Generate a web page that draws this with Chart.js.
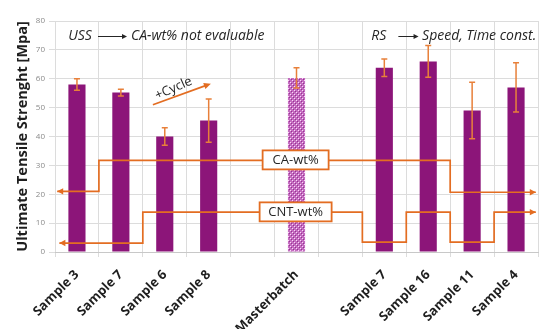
<!DOCTYPE html>
<html><head><meta charset="utf-8">
<script src="https://cdn.jsdelivr.net/npm/chart.js@4/dist/chart.umd.min.js"></script>
<style>html,body{margin:0;padding:0;background:#fff}canvas{display:block}</style>
</head><body>
<canvas id="c" width="539" height="329"></canvas>
<script>
// ---- data ----
const categories = ['Sample 3','Sample 7','Sample 6','Sample 8','','Masterbatch','','Sample 7','Sample 16','Sample 11','Sample 4'];
const tensileStrength = [58, 55.2, 40, 45.5, null, 60.3, null, 63.8, 66, 49, 57];
const errorMinus = [2, 1.2, 3, 7.5, null, 3.5, null, 3, 5.5, 9.8, 8.5];
const errorPlus  = [2, 1.2, 3, 7.5, null, 3.5, null, 3, 5.5, 9.8, 8.5];
const yTickValues = [0, 10, 20, 30, 40, 50, 60, 70, 80];
const patternedCategory = 'Masterbatch';

// ---- styles ----
const BAR = '#8c1579';
const ORANGE = '#e36d22';
const FONT = "'Open Sans', 'Noto Sans', sans-serif";

function makePattern() {
  const p = document.createElement('canvas');
  p.width = 4; p.height = 4;
  const g = p.getContext('2d');
  g.fillStyle = '#c46cc0';
  g.fillRect(0, 0, 4, 4);
  g.fillStyle = 'rgba(250,215,248,1)';
  g.fillRect(0, 0, 1, 1); g.fillRect(2, 2, 1, 1);
  g.fillStyle = 'rgba(150,50,145,1)';
  g.fillRect(1, 1, 1, 1); g.fillRect(3, 3, 1, 1);
  return document.getElementById('c').getContext('2d').createPattern(p, 'repeat');
}
const pattern = makePattern();

const annotations = {
  caLine:  [[-0.45,21],[0.5,21],[0.5,31.7],[8.5,31.7],[8.5,20.7],[10.45,20.7]],
  cntLine: [[-0.4,3.1],[1.5,3.1],[1.5,13.8],[6.5,13.8],[6.5,3.4],[7.5,3.4],[7.5,13.8],[8.5,13.8],[8.5,3.4],[9.5,3.4],[9.5,13.8],[10.45,13.8]],
  boxes: [
    {text:'CA-wt%', x:4.98, y:31.9, w:66, h:19},
    {text:'CNT-wt%', x:4.98, y:13.9, w:72, h:19}
  ],
  cycleArrow: [[1.73,51],[3.05,58.3]],
  cycleText: {text:'+Cycle', x:2.2, y:56.6, angle:-24},
  topNotes: [
    {left:'USS', x:-0.2, arrow:[0.48,1.14], right:'CA-wt% not evaluable', rx:1.23, y:74.8},
    {left:'RS', x:6.7, arrow:[7.32,7.78], right:'Speed, Time const.', rx:7.86, y:74.8}
  ]
};

function arrowHead(ctx, x0, y0, x1, y1, len, half) {
  const a = Math.atan2(y1 - y0, x1 - x0);
  ctx.beginPath();
  ctx.moveTo(x1, y1);
  ctx.lineTo(x1 - len*Math.cos(a) + half*Math.sin(a), y1 - len*Math.sin(a) - half*Math.cos(a));
  ctx.lineTo(x1 - len*Math.cos(a) - half*Math.sin(a), y1 - len*Math.sin(a) + half*Math.cos(a));
  ctx.closePath();
  ctx.fill();
}

const overlay = {
  id: 'overlay',
  afterDatasetsDraw(chart) {
    const ctx = chart.ctx;
    const xs = chart.scales.x, ys = chart.scales.y;
    const px = v => xs.getPixelForValue(v);
    const py = v => ys.getPixelForValue(v);
    ctx.save();
    // error bars
    ctx.strokeStyle = '#e8803a';
    ctx.lineWidth = 1.5;
    tensileStrength.forEach((v, i) => {
      if (v == null) return;
      const x = px(i), t = py(v + errorPlus[i]), b = py(v - errorMinus[i]);
      ctx.beginPath();
      ctx.moveTo(x, t); ctx.lineTo(x, b);
      ctx.moveTo(x - 3, t); ctx.lineTo(x + 3, t);
      ctx.moveTo(x - 3, b); ctx.lineTo(x + 3, b);
      ctx.stroke();
    });
    // step lines
    ctx.strokeStyle = ORANGE; ctx.fillStyle = ORANGE;
    ctx.lineWidth = 1.7; ctx.lineJoin = 'miter';
    [annotations.caLine, annotations.cntLine].forEach(line => {
      const pts = line.map(p => [px(p[0]), py(p[1])]);
      ctx.beginPath();
      ctx.moveTo(pts[0][0], pts[0][1]);
      for (let k = 1; k < pts.length; k++) ctx.lineTo(pts[k][0], pts[k][1]);
      ctx.stroke();
      arrowHead(ctx, pts[1][0], pts[1][1], pts[0][0], pts[0][1], 6, 3.2);
      const n = pts.length;
      arrowHead(ctx, pts[n-2][0], pts[n-2][1], pts[n-1][0], pts[n-1][1], 6, 3.2);
    });
    // boxes
    annotations.boxes.forEach(b => {
      const cx = px(b.x), cy = py(b.y);
      ctx.fillStyle = '#fff';
      ctx.fillRect(cx - b.w/2, cy - b.h/2, b.w, b.h);
      ctx.strokeStyle = ORANGE; ctx.lineWidth = 1.8;
      ctx.strokeRect(cx - b.w/2, cy - b.h/2, b.w, b.h);
      ctx.fillStyle = '#262626';
      ctx.font = "13px " + FONT;
      ctx.textAlign = 'center'; ctx.textBaseline = 'middle';
      ctx.fillText(b.text, cx, cy + 0.5);
    });
    // +Cycle arrow
    const ca = annotations.cycleArrow.map(p => [px(p[0]), py(p[1])]);
    ctx.strokeStyle = ORANGE; ctx.fillStyle = ORANGE; ctx.lineWidth = 1.7;
    ctx.beginPath(); ctx.moveTo(ca[0][0], ca[0][1]); ctx.lineTo(ca[1][0] - 4, ca[1][1] + 1.5); ctx.stroke();
    arrowHead(ctx, ca[0][0], ca[0][1], ca[1][0], ca[1][1], 7, 3.2);
    const ct = annotations.cycleText;
    ctx.save();
    ctx.translate(px(ct.x), py(ct.y));
    ctx.rotate(ct.angle * Math.PI / 180);
    ctx.fillStyle = '#262626';
    ctx.font = "13px " + FONT;
    ctx.textAlign = 'center'; ctx.textBaseline = 'middle';
    ctx.fillText(ct.text, 0, 0);
    ctx.restore();
    // top notes
    annotations.topNotes.forEach(n => {
      const y = py(n.y);
      ctx.fillStyle = '#262626';
      ctx.font = "italic 14px " + FONT;
      ctx.textAlign = 'left'; ctx.textBaseline = 'middle';
      ctx.fillText(n.left, px(n.x), y);
      ctx.fillText(n.right, px(n.rx), y);
      const a0 = px(n.arrow[0]), a1 = px(n.arrow[1]);
      ctx.strokeStyle = '#262626'; ctx.lineWidth = 1;
      ctx.beginPath(); ctx.moveTo(a0, y + 0.5); ctx.lineTo(a1 - 3, y + 0.5); ctx.stroke();
      ctx.fillStyle = '#262626';
      arrowHead(ctx, a0, y + 0.5, a1, y + 0.5, 5, 2.5);
    });
    ctx.restore();
  }
};

new Chart(document.getElementById('c'), {
  type: 'bar',
  data: {
    labels: categories,
    datasets: [{
      data: tensileStrength,
      backgroundColor: categories.map(c => c === patternedCategory ? pattern : BAR),
      borderWidth: 0,
      barPercentage: 0.39,
      categoryPercentage: 1.0
    }]
  },
  options: {
    responsive: false,
    animation: false,
    devicePixelRatio: 1,
    layout: { padding: { top: 21, right: 1, left: 0, bottom: 0 } },
    plugins: { legend: { display: false }, tooltip: { enabled: false } },
    scales: {
      x: {
        grid: { color: '#dcdcdc', tickLength: 5 },
        border: { color: '#c8c8c8' },
        ticks: {
          minRotation: 45, maxRotation: 45, autoSkip: false,
          color: '#1e1e1e', font: { family: FONT, size: 13, weight: 'bold' }, padding: 10
        },
        afterFit(s) { s.height = 77; }
      },
      y: {
        min: 0, max: 80,
        afterBuildTicks(s) { s.ticks = yTickValues.map(v => ({ value: v })); },
        grid: { color: '#dcdcdc', tickLength: 6 },
        border: { display: false },
        ticks: { color: '#8a8a8a', font: { family: FONT, size: 8 }, padding: 4 },
        title: {
          display: true, text: 'Ultimate Tensile Strenght [Mpa]',
          color: '#1e1e1e', font: { family: FONT, size: 14.5, weight: 'bold' },
          padding: { top: 14, bottom: 4 }
        },
        afterFit(s) { s.width = 55; }
      }
    }
  },
  plugins: [overlay]
});
</script>
</body></html>
